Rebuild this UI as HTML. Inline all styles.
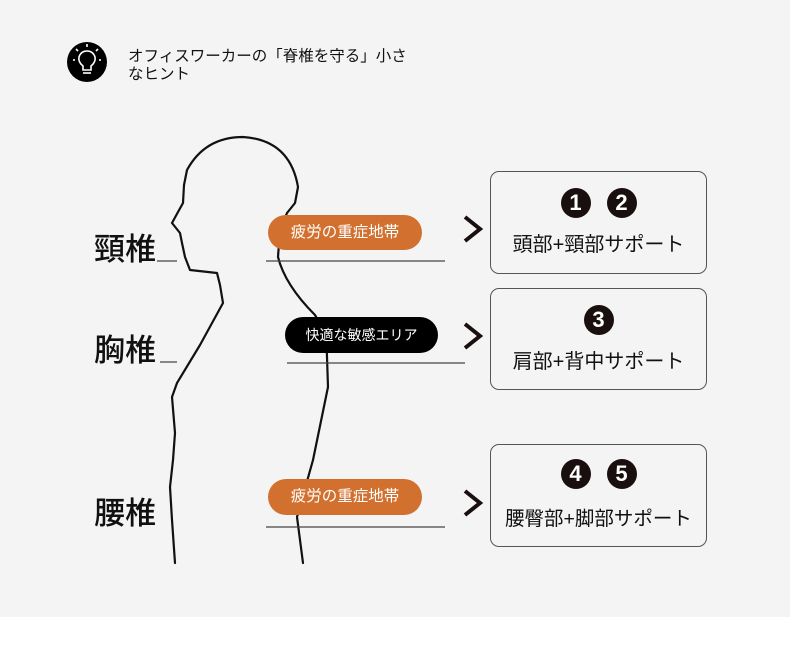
<!DOCTYPE html>
<html><head><meta charset="utf-8"><style>
html,body{margin:0;padding:0;background:#fff;}
#c{position:relative;width:790px;height:660px;overflow:hidden;font-family:"Liberation Sans","Noto Sans CJK JP",sans-serif;}
.bg{position:absolute;left:0;top:0;width:790px;height:617px;background:#f4f4f5;}
.t{position:absolute;white-space:nowrap;color:#111;}
.pill{position:absolute;border-radius:18px;color:#fff;font-size:15.5px;text-align:center;}
.box{position:absolute;left:490px;width:217px;border:1.5px solid #555;border-radius:9px;box-sizing:border-box;}
.cir{display:inline-block;width:30px;height:30px;border-radius:50%;background:#1a0f0f;color:#fff;font-weight:bold;font-size:22px;line-height:30px;text-align:center;margin:0 8px;}
.bt{position:absolute;width:100%;text-align:center;font-size:20px;color:#111;}
.nums{position:absolute;width:100%;text-align:center;}
</style></head><body><div id="c">
<div class="bg"></div>
<svg style="position:absolute;left:0;top:0" width="790" height="660">
<circle cx="87" cy="62" r="20" fill="#000"/>
<g stroke="#fff" stroke-width="1.6" fill="none">
<path d="M83 70 L83 66 Q78 62 79 57 Q81 51 87 51 Q93 51 95 57 Q96 62 91 66 L91 70 Z"/>
<line x1="83" y1="73" x2="91" y2="73"/>
<line x1="87" y1="44" x2="87" y2="47"/><line x1="76" y1="49" x2="78" y2="51"/><line x1="98" y1="49" x2="96" y2="51"/>
<line x1="73" y1="60" x2="75" y2="60"/><line x1="99" y1="60" x2="101" y2="60"/>
</g>
<g stroke="#111" stroke-width="2.2" fill="none" stroke-linecap="round" stroke-linejoin="round">
<path d="M175 563 L172 520 L170 487 L173 460 L175 433 L172 397 L177 383 L200 345 L223 303 L220 285 L217 273 L190 270 L185 257 L182 243 L180 233 L172 223 L178 212 L183 203 L184 185 L187 170 Q205 137 243 137 Q290 140 298 187 L295 203 L287 213 L280 230 L278 257 Q285 285 315 315 Q327 335 327 357 L328 387 L313 460 L297 517 L303 563"/>
</g>
<g stroke="#444" stroke-width="1.3">
<line x1="157" y1="261" x2="177" y2="261"/>
<line x1="160" y1="362" x2="177" y2="362"/>
<line x1="266" y1="261" x2="445" y2="261"/>
<line x1="287" y1="363" x2="465" y2="363"/>
<line x1="266" y1="527" x2="445" y2="527"/>
</g>
<g stroke="#1a0f0f" stroke-width="4" fill="none">
<path d="M465 217 L480 229 L465 241"/>
<path d="M465 324 L480 336 L465 348"/>
<path d="M465 491 L480 503 L465 515"/>
</g>
</svg>
<div class="t" style="left:128px;top:48px;font-size:15.5px;line-height:18px;">オフィスワーカーの「脊椎を守る」小さ<br>なヒント</div>
<div class="t" style="left:94px;top:224px;font-size:31px;font-weight:500;">頸椎</div>
<div class="t" style="left:94px;top:325px;font-size:31px;font-weight:500;">胸椎</div>
<div class="t" style="left:94px;top:488px;font-size:31px;font-weight:500;">腰椎</div>
<div class="pill" style="left:268px;top:215px;width:154px;height:35px;line-height:35px;background:#d2712f;">疲労の重症地帯</div>
<div class="pill" style="left:285px;top:317px;width:153px;height:36px;line-height:36px;background:#000;font-size:14px;">快適な敏感エリア</div>
<div class="pill" style="left:268px;top:479px;width:154px;height:36px;line-height:36px;background:#d2712f;">疲労の重症地帯</div>
<div class="box" style="top:171px;height:103px;"><div class="nums" style="top:16px;"><span class="cir">1</span><span class="cir">2</span></div><div class="bt" style="top:56px;">頭部+頸部サポート</div></div>
<div class="box" style="top:288px;height:102px;"><div class="nums" style="top:16px;"><span class="cir">3</span></div><div class="bt" style="top:56px;">肩部+背中サポート</div></div>
<div class="box" style="top:444px;height:103px;"><div class="nums" style="top:14px;"><span class="cir">4</span><span class="cir">5</span></div><div class="bt" style="top:57px;font-size:19.5px;">腰臀部+脚部サポート</div></div>
</div></body></html>
